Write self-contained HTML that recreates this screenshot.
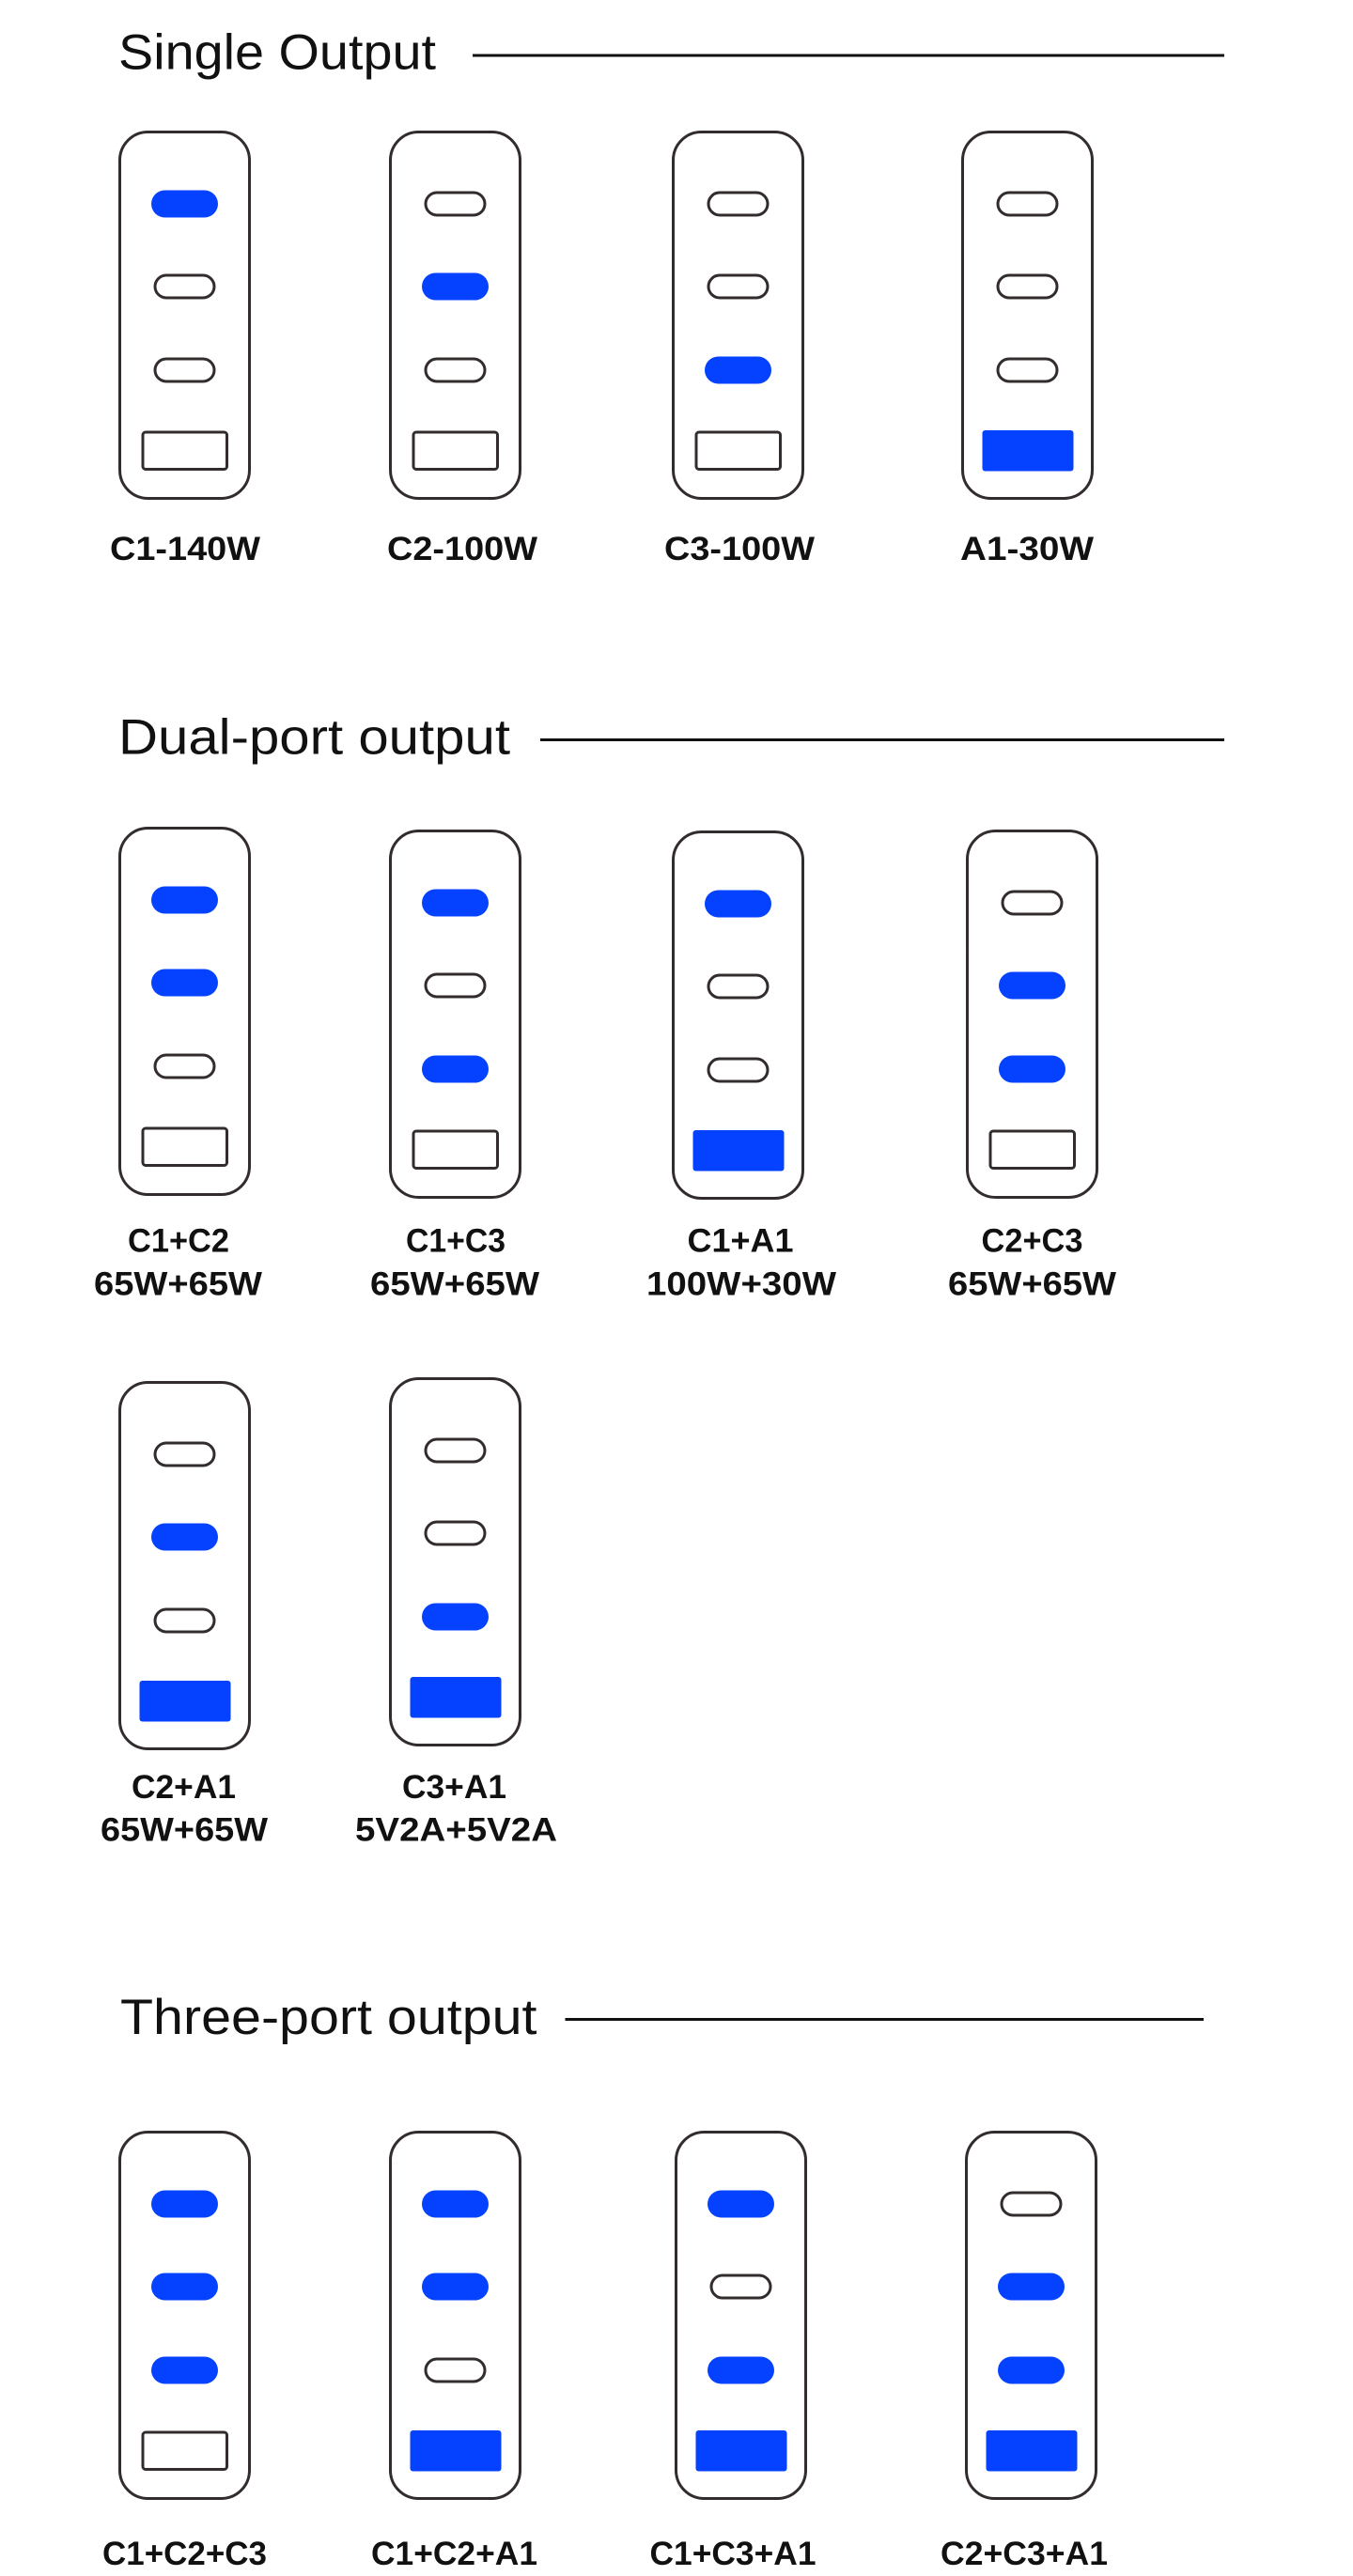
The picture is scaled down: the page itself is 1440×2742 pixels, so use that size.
<!DOCTYPE html>
<html>
<head>
<meta charset="utf-8">
<style>
  html, body { margin: 0; padding: 0; background: #ffffff; }
  body { width: 1440px; height: 2742px; overflow: hidden; }
  svg { display: block; }
  .title { font-family: "Liberation Sans", sans-serif; font-size: 53px; fill: #111111; }
  .lbl { font-family: "Liberation Sans", sans-serif; font-weight: bold; font-size: 35px; fill: #111111; }
  .frame { fill: none; stroke: #332c2c; stroke-width: 3; }
  .co { fill: #ffffff; stroke: #332c2c; stroke-width: 3; }
  .cf { fill: #0442ff; }
  .uo { fill: #ffffff; stroke: #332c2c; stroke-width: 3; }
  .uf { fill: #0442ff; }
</style>
</head>
<body>
<svg width="1440" height="2742" viewBox="0 0 1440 2742" xmlns="http://www.w3.org/2000/svg">
  <defs>
    <rect id="frame" class="frame" x="1.5" y="1.5" width="138" height="390" rx="30" ry="30"/>
    <rect id="co1" class="co" x="39" y="66" width="63" height="24" rx="12" ry="12"/>
    <rect id="co2" class="co" x="39" y="154" width="63" height="24" rx="12" ry="12"/>
    <rect id="co3" class="co" x="39" y="243" width="63" height="24" rx="12" ry="12"/>
    <rect id="cf1" class="cf" x="35" y="63.5" width="71" height="29" rx="14.5" ry="14.5"/>
    <rect id="cf2" class="cf" x="35" y="151.5" width="71" height="29" rx="14.5" ry="14.5"/>
    <rect id="cf3" class="cf" x="35" y="240.5" width="71" height="29" rx="14.5" ry="14.5"/>
    <rect id="uo" class="uo" x="26" y="321" width="89.5" height="39.5" rx="3" ry="3"/>
    <rect id="uf" class="uf" x="22.5" y="319" width="97" height="43.5" rx="3" ry="3"/>
  </defs>

  <!-- ============ Single Output ============ -->
  <text class="title" x="126" y="73.3" textLength="338" lengthAdjust="spacingAndGlyphs">Single Output</text>
  <rect x="503" y="57.5" width="800" height="3" fill="#111111"/>

  <g transform="translate(126,139)">
    <use href="#frame"/><use href="#cf1"/><use href="#co2"/><use href="#co3"/><use href="#uo"/>
  </g>
  <g transform="translate(414,139)">
    <use href="#frame"/><use href="#co1"/><use href="#cf2"/><use href="#co3"/><use href="#uo"/>
  </g>
  <g transform="translate(715,139)">
    <use href="#frame"/><use href="#co1"/><use href="#co2"/><use href="#cf3"/><use href="#uo"/>
  </g>
  <g transform="translate(1023,139)">
    <use href="#frame"/><use href="#co1"/><use href="#co2"/><use href="#co3"/><use href="#uf"/>
  </g>

  <text class="lbl" x="197" y="596" text-anchor="middle" textLength="160" lengthAdjust="spacingAndGlyphs">C1-140W</text>
  <text class="lbl" x="492" y="596" text-anchor="middle" textLength="160" lengthAdjust="spacingAndGlyphs">C2-100W</text>
  <text class="lbl" x="787" y="596" text-anchor="middle" textLength="160" lengthAdjust="spacingAndGlyphs">C3-100W</text>
  <text class="lbl" x="1093" y="596" text-anchor="middle" textLength="142" lengthAdjust="spacingAndGlyphs">A1-30W</text>

  <!-- ============ Dual-port output ============ -->
  <text class="title" x="126" y="802.3" textLength="417" lengthAdjust="spacingAndGlyphs">Dual-port output</text>
  <rect x="575" y="786" width="728" height="3" fill="#111111"/>

  <g transform="translate(126,880)">
    <use href="#frame"/><use href="#cf1"/><use href="#cf2"/><use href="#co3"/><use href="#uo"/>
  </g>
  <g transform="translate(414,883)">
    <use href="#frame"/><use href="#cf1"/><use href="#co2"/><use href="#cf3"/><use href="#uo"/>
  </g>
  <g transform="translate(715,884)">
    <use href="#frame"/><use href="#cf1"/><use href="#co2"/><use href="#co3"/><use href="#uf"/>
  </g>
  <g transform="translate(1028,883)">
    <use href="#frame"/><use href="#co1"/><use href="#cf2"/><use href="#cf3"/><use href="#uo"/>
  </g>

  <text class="lbl" x="190" y="1332.5" text-anchor="middle" textLength="108" lengthAdjust="spacingAndGlyphs">C1+C2</text>
  <text class="lbl" x="189.5" y="1378.5" text-anchor="middle" textLength="179" lengthAdjust="spacingAndGlyphs">65W+65W</text>
  <text class="lbl" x="485" y="1332.5" text-anchor="middle" textLength="106" lengthAdjust="spacingAndGlyphs">C1+C3</text>
  <text class="lbl" x="484" y="1378.5" text-anchor="middle" textLength="180" lengthAdjust="spacingAndGlyphs">65W+65W</text>
  <text class="lbl" x="788" y="1332.5" text-anchor="middle" textLength="113" lengthAdjust="spacingAndGlyphs">C1+A1</text>
  <text class="lbl" x="789" y="1378.5" text-anchor="middle" textLength="202" lengthAdjust="spacingAndGlyphs">100W+30W</text>
  <text class="lbl" x="1098.5" y="1332.5" text-anchor="middle" textLength="108" lengthAdjust="spacingAndGlyphs">C2+C3</text>
  <text class="lbl" x="1098.5" y="1378.5" text-anchor="middle" textLength="179" lengthAdjust="spacingAndGlyphs">65W+65W</text>

  <g transform="translate(126,1470)">
    <use href="#frame"/><use href="#co1"/><use href="#cf2"/><use href="#co3"/><use href="#uf"/>
  </g>
  <g transform="translate(414,1466)">
    <use href="#frame"/><use href="#co1"/><use href="#co2"/><use href="#cf3"/><use href="#uf"/>
  </g>

  <text class="lbl" x="195.5" y="1914" text-anchor="middle" textLength="111" lengthAdjust="spacingAndGlyphs">C2+A1</text>
  <text class="lbl" x="196" y="1959.3" text-anchor="middle" textLength="178" lengthAdjust="spacingAndGlyphs">65W+65W</text>
  <text class="lbl" x="483.5" y="1914" text-anchor="middle" textLength="111" lengthAdjust="spacingAndGlyphs">C3+A1</text>
  <text class="lbl" x="485.5" y="1959.3" text-anchor="middle" textLength="215" lengthAdjust="spacingAndGlyphs">5V2A+5V2A</text>

  <!-- ============ Three-port output ============ -->
  <text class="title" x="128" y="2165" textLength="443.5" lengthAdjust="spacingAndGlyphs">Three-port output</text>
  <rect x="601.5" y="2148" width="679.5" height="3" fill="#111111"/>

  <g transform="translate(126,2268)">
    <use href="#frame"/><use href="#cf1"/><use href="#cf2"/><use href="#cf3"/><use href="#uo"/>
  </g>
  <g transform="translate(414,2268)">
    <use href="#frame"/><use href="#cf1"/><use href="#cf2"/><use href="#co3"/><use href="#uf"/>
  </g>
  <g transform="translate(718,2268)">
    <use href="#frame"/><use href="#cf1"/><use href="#co2"/><use href="#cf3"/><use href="#uf"/>
  </g>
  <g transform="translate(1027,2268)">
    <use href="#frame"/><use href="#co1"/><use href="#cf2"/><use href="#cf3"/><use href="#uf"/>
  </g>

  <text class="lbl" x="196.5" y="2730" text-anchor="middle" textLength="175" lengthAdjust="spacingAndGlyphs">C1+C2+C3</text>
  <text class="lbl" x="483.5" y="2730" text-anchor="middle" textLength="177" lengthAdjust="spacingAndGlyphs">C1+C2+A1</text>
  <text class="lbl" x="780" y="2730" text-anchor="middle" textLength="177" lengthAdjust="spacingAndGlyphs">C1+C3+A1</text>
  <text class="lbl" x="1090" y="2730" text-anchor="middle" textLength="178" lengthAdjust="spacingAndGlyphs">C2+C3+A1</text>
</svg>
</body>
</html>
